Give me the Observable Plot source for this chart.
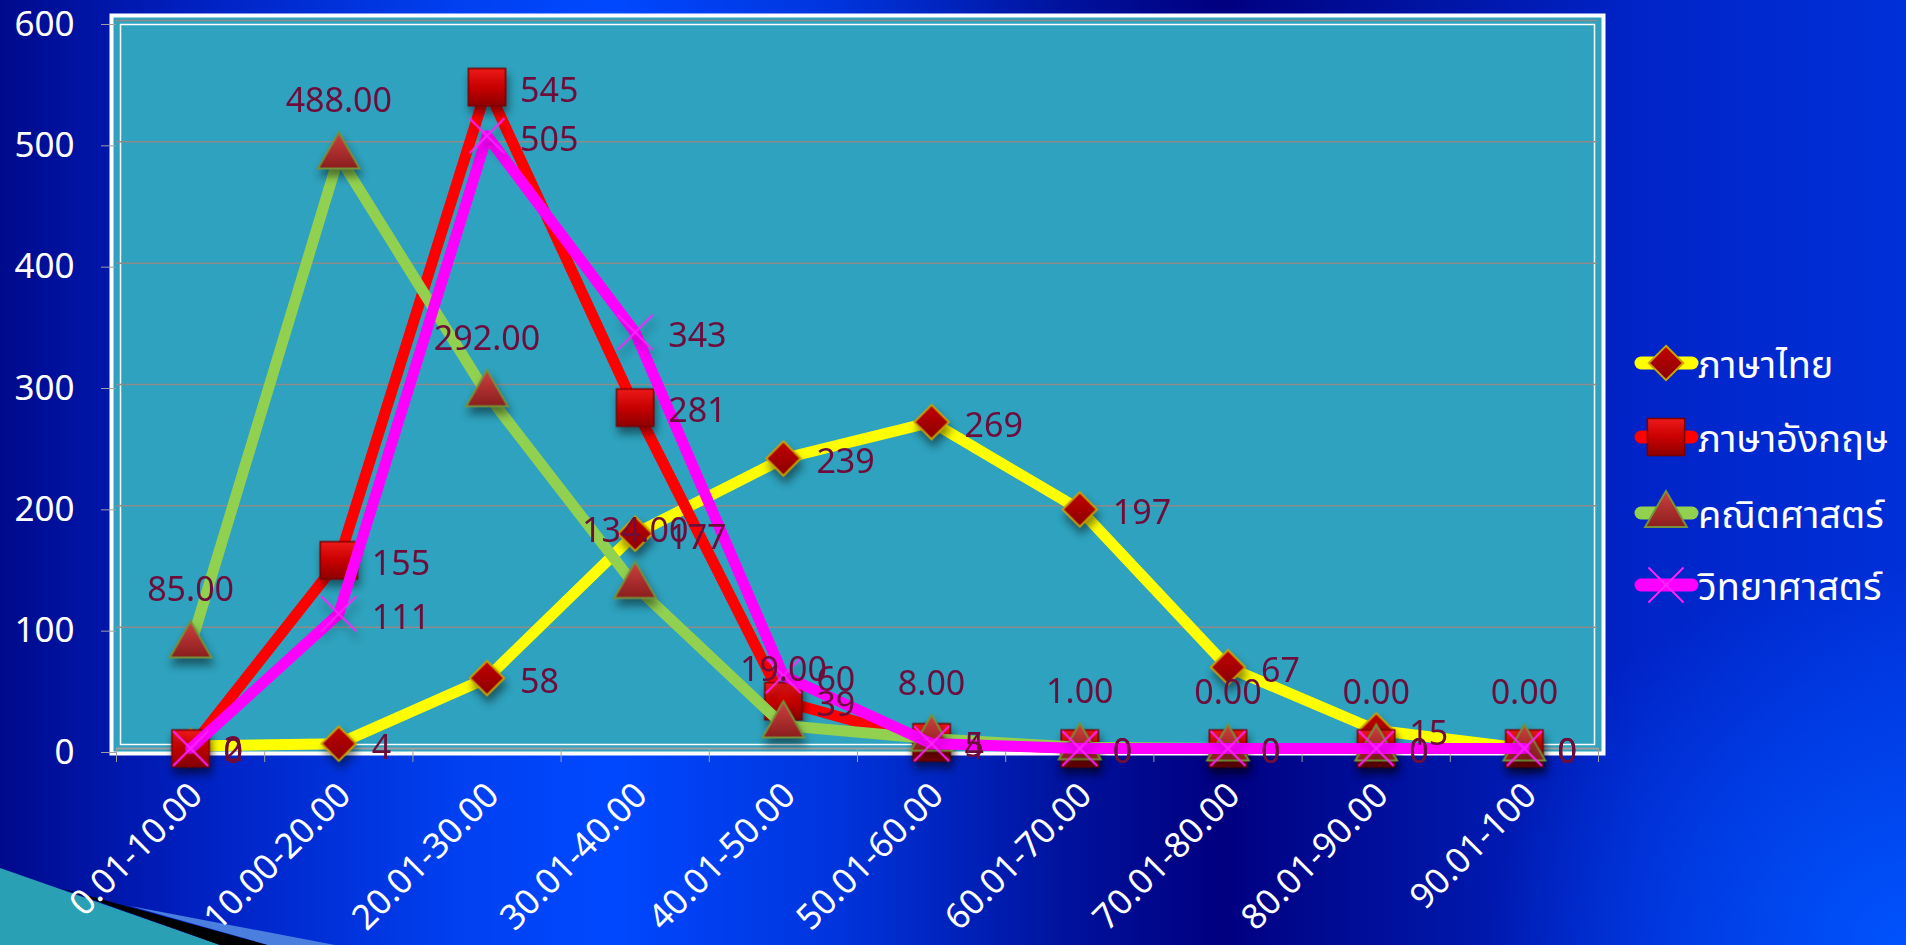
<!DOCTYPE html>
<html><head><meta charset="utf-8">
<script src="https://cdn.jsdelivr.net/npm/d3@7"></script>
<script src="https://cdn.jsdelivr.net/npm/@observablehq/plot@0.6"></script>
<style>
html,body{margin:0;padding:0;width:1906px;height:945px;overflow:hidden;}
body{position:relative;
 background:
  radial-gradient(ellipse 420px 380px at 1906px 945px, rgba(0,85,255,0.95), rgba(0,85,255,0) 100%),
  linear-gradient(90deg,#000a8c 0%,#0020c0 10%,#0040f0 24%,#0048ff 32%,#0034dc 44%,#00129c 56%,#000080 64%,#0012a0 74%,#0024c8 86%,#0030d8 100%);
 font-family:"Noto Sans","Noto Sans Thai","Tahoma",sans-serif;}
#deco{position:absolute;left:0;top:0;}
#chart{position:absolute;left:0;top:0;}
.lg{position:absolute;left:1632px;height:50px;display:flex;align-items:center;}
.lg span{color:white;font-size:38px;margin-left:-2px;line-height:50px;white-space:nowrap;}
</style></head><body>
<svg width="0" height="0" style="position:absolute"><defs>
 <linearGradient id="gDiamond" x1="0" y1="0" x2="0" y2="1"><stop offset="0" stop-color="#c40000"/><stop offset="1" stop-color="#8a0000"/></linearGradient>
 <linearGradient id="gSquare" x1="0" y1="0" x2="0" y2="1"><stop offset="0" stop-color="#ee1a1a"/><stop offset="0.5" stop-color="#c80000"/><stop offset="1" stop-color="#8e0000"/></linearGradient>
 <linearGradient id="gTri" x1="0" y1="0" x2="0" y2="1"><stop offset="0" stop-color="#d04040"/><stop offset="1" stop-color="#8a1e1e"/></linearGradient>
</defs></svg>
<svg id="deco" width="1906" height="945">
 <polygon points="0,868 220,945 0,945" fill="#2aa0b4"/>
 <polygon points="60,888 268,945 220,945" fill="#000000"/>
 <polygon points="130,906 335,945 268,945" fill="#4a7fe0"/>
</svg>
<div id="chart"></div>
<div id="legend"></div>
<script>
const categories = ["0.01-10.00","10.00-20.00","20.01-30.00","30.01-40.00","40.01-50.00","50.01-60.00","60.01-70.00","70.01-80.00","80.01-90.00","90.01-100"];
const seriesNames = ["ภาษาไทย","ภาษาอังกฤษ","คณิตศาสตร์","วิทยาศาสตร์"];
const thai    = [2, 4, 58, 177, 239, 269, 197, 67, 15, 0];
const english = [0, 155, 545, 281, 39, 5, 0, 0, 0, 0];
const math    = [85, 488, 292, 134, 19, 8, 1, 0, 0, 0];
const science = [0, 111, 505, 343, 60, 4, 0, 0, 0, 0];
const yTicks  = [0, 100, 200, 300, 400, 500, 600];

const idx = d3.range(categories.length);
const bounds = d3.range(categories.length + 1).map(i => i - 0.5);
const maroon = "#6e0d3c";

const series = [
  {values: thai, line: "#ffff00", symbol: "diamond2", r: 15.5, fill: "url(#gDiamond)", mstroke: "#c8a200", msw: 2},
  {values: english, line: "#ff0000", symbol: "square", r: 21, fill: "url(#gSquare)", mstroke: "#7a0000", msw: 1.5},
  {values: math, line: "#92d050", symbol: "triangle", r: 15.5, fill: "url(#gTri)", mstroke: "#77913a", msw: 2},
  {values: science, line: "#ff00ff", symbol: "times", r: 16, fill: "none", mstroke: "#ff22ff", msw: 2}
];

const marks = [
  Plot.frame({fill: "#2ea2be", stroke: "white", strokeWidth: 4, inset: -5}),
  Plot.frame({stroke: "white", strokeWidth: 1.5, inset: 4}),
  Plot.gridY(yTicks.slice(1), {stroke: "#8c8c8c", strokeOpacity: 1, strokeWidth: 1.5}),
  Plot.ruleY([0], {stroke: "#a0a0a0", strokeWidth: 2}),
  Plot.axisY(yTicks, {tickSize: 15, stroke: "#a0a0a0", fill: "white", tickPadding: 27, dy: 4, fontSize: 35}),
  Plot.axisX(bounds, {tickSize: 14, stroke: "#a0a0a0", tickFormat: () => ""}),
  Plot.axisX(idx, {tickSize: 0, tickRotate: -45, tickFormat: i => categories[i], fill: "white", fontSize: 35, tickPadding: 41, dx: 6})
];
for (const s of series) {
  marks.push(Plot.line(idx, {x: i => i, y: i => s.values[i], stroke: s.line, strokeWidth: 11, strokeLinejoin: "round", strokeLinecap: "round"}));
  marks.push(Plot.dot(idx, {x: i => i, y: i => s.values[i], symbol: s.symbol, r: s.r, fill: s.fill, stroke: s.mstroke, strokeWidth: s.msw}));
}
const rightLabel = v => Plot.text(idx, {x: i => i, y: i => v[i], text: i => String(v[i]), dx: 33, dy: 4, textAnchor: "start", fill: maroon, fontSize: 34});
marks.push(rightLabel(thai), rightLabel(english), rightLabel(science));
marks.push(Plot.text(idx, {x: i => i, y: i => math[i], text: i => math[i].toFixed(2), dy: -55, fill: maroon, fontSize: 34}));

const chart = Plot.plot({
  width: 1906, height: 945,
  marginLeft: 116, marginRight: 308, marginTop: 20, marginBottom: 197,
  x: {domain: [-0.5, 9.5]},
  y: {domain: [0, 600]},
  style: {background: "transparent", fontFamily: "'Noto Sans','Noto Sans Thai',Tahoma,sans-serif", fontSize: "34px", overflow: "visible"},
  marks
});
chart.querySelectorAll('g[aria-label="dot"]').forEach(g => g.style.filter = "drop-shadow(2px 7px 4px rgba(0,0,0,0.45))");
document.getElementById("chart").append(chart);

// legend
const legendY = [363, 437, 513, 585];
const NS = "http://www.w3.org/2000/svg";
series.forEach((s, k) => {
  const div = document.createElement("div");
  div.className = "lg";
  div.style.top = (legendY[k] - 25) + "px";
  const sv = document.createElementNS(NS, "svg");
  sv.setAttribute("width", 68); sv.setAttribute("height", 50);
  const ln = document.createElementNS(NS, "line");
  ln.setAttribute("x1", 9); ln.setAttribute("x2", 60); ln.setAttribute("y1", 25); ln.setAttribute("y2", 25);
  ln.setAttribute("stroke", s.line); ln.setAttribute("stroke-width", 13); ln.setAttribute("stroke-linecap", "round");
  sv.append(ln);
  const sym = d3.symbol(
    {diamond2: d3.symbolDiamond2, square: d3.symbolSquare, triangle: d3.symbolTriangle, times: d3.symbolTimes}[s.symbol],
    Math.PI * s.r * s.r)();
  const p = document.createElementNS(NS, "path");
  p.setAttribute("d", sym);
  p.setAttribute("transform", "translate(34," + (s.symbol === "triangle" ? 27 : 25) + ")");
  p.setAttribute("fill", s.fill); p.setAttribute("stroke", s.mstroke); p.setAttribute("stroke-width", s.msw);
  sv.append(p);
  const sp = document.createElement("span");
  sp.textContent = seriesNames[k];
  div.append(sv, sp);
  document.getElementById("legend").append(div);
});
</script>
</body></html>
